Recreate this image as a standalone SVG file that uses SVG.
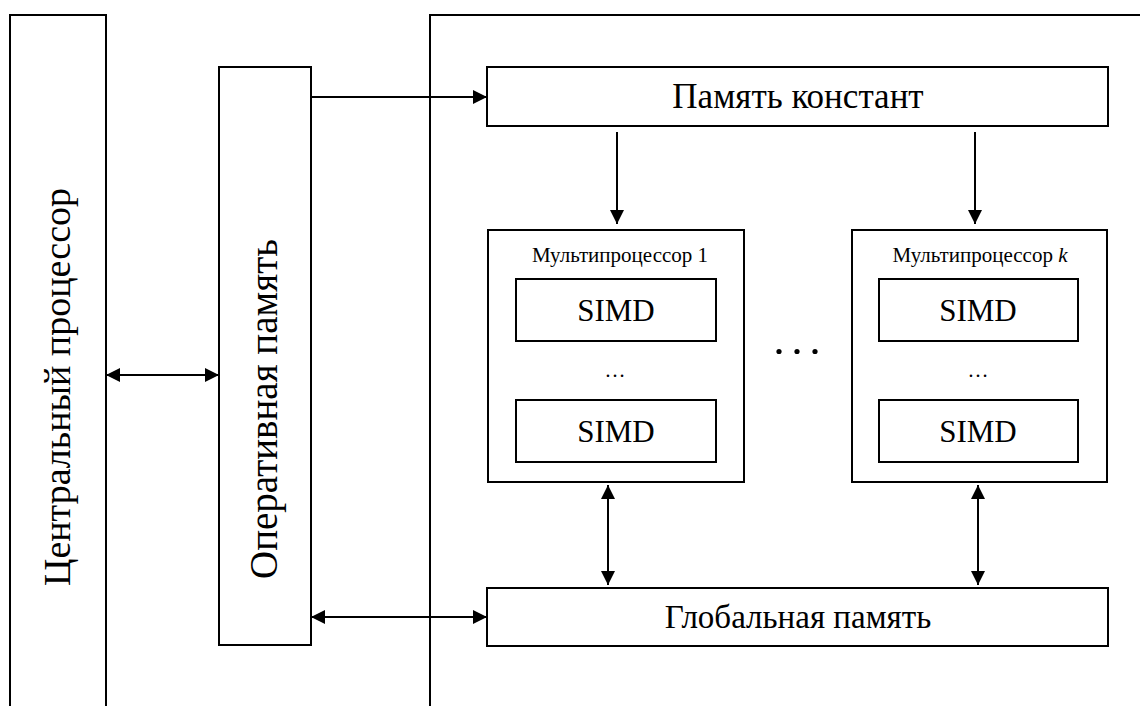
<svg xmlns="http://www.w3.org/2000/svg" width="1140" height="706" viewBox="0 0 1140 706">
  <defs>
    <marker id="head" viewBox="0 0 14 14" refX="14" refY="7" markerWidth="14" markerHeight="14" markerUnits="userSpaceOnUse" orient="auto-start-reverse">
      <path d="M0,0 L14,7 L0,14 Z" fill="#000"/>
    </marker>
    <style>
      .box { fill: #fff; stroke: #000; stroke-width: 2; }
      .line { fill: none; stroke: #000; stroke-width: 2; }
      .wire { fill: none; stroke: #000; stroke-width: 2; }
      .one { marker-end: url(#head); }
      .two { marker-start: url(#head); marker-end: url(#head); }
      .t { font-family: "Liberation Serif", "Times New Roman", serif; fill: #000; text-anchor: middle; }
      .big { font-size: 33px; }
      .side { font-size: 38px; }
      .simd { font-size: 31px; }
      .small { font-size: 21px; }
    </style>
  </defs>
  <rect width="1140" height="706" fill="#fff"/>

  <!-- host side -->
  <g id="cpu">
    <path class="line" d="M10,707 V15 H106 V707"/>
    <text class="t side" transform="translate(58,387) rotate(-90)" dy="12">Центральный процессор</text>
  </g>
  <g id="ram">
    <rect class="box" x="219" y="67" width="92" height="578"/>
    <text class="t side" transform="translate(265,409) rotate(-90)" dy="12" style="font-size:39px">Оперативная память</text>
  </g>

  <!-- device frame -->
  <g id="device">
    <path class="line" d="M430,707 V15 H1141"/>
  </g>

  <g id="const-mem">
    <rect class="box" x="487" y="67" width="621" height="59"/>
    <text class="t big" x="798" y="108" style="font-size:35px">Память констант</text>
  </g>

  <g id="mp1">
    <rect class="box" x="488" y="230" width="256" height="252"/>
    <text class="t small" x="620" y="262">Мультипроцессор 1</text>
    <rect class="box" x="516" y="279" width="200" height="62"/>
    <text class="t simd" x="616" y="321">SIMD</text>
    <text class="t small" x="615" y="377">…</text>
    <rect class="box" x="516" y="400" width="200" height="62"/>
    <text class="t simd" x="616" y="442">SIMD</text>
  </g>

  <g id="ellipsis">
    <circle cx="779" cy="351.5" r="2.6"/>
    <circle cx="797" cy="351.5" r="2.6"/>
    <circle cx="815" cy="351.5" r="2.6"/>
  </g>

  <g id="mpk">
    <rect class="box" x="852" y="230" width="255" height="252"/>
    <text class="t small" x="980" y="262">Мультипроцессор <tspan font-style="italic">k</tspan></text>
    <rect class="box" x="879" y="279" width="199" height="62"/>
    <text class="t simd" x="978" y="321">SIMD</text>
    <text class="t small" x="978" y="377">…</text>
    <rect class="box" x="879" y="400" width="199" height="62"/>
    <text class="t simd" x="978" y="442">SIMD</text>
  </g>

  <g id="global-mem">
    <rect class="box" x="487" y="588" width="621" height="58"/>
    <text class="t big" x="798" y="628">Глобальная память</text>
  </g>

  <!-- connectors -->
  <g id="connectors">
    <line class="wire two" x1="106" y1="375" x2="219" y2="375"/>
    <line class="wire one" x1="311" y1="97" x2="487" y2="97"/>
    <line class="wire two" x1="311" y1="617" x2="487" y2="617"/>
    <line class="wire one" x1="617" y1="132" x2="617" y2="224"/>
    <line class="wire one" x1="975" y1="132" x2="975" y2="224"/>
    <line class="wire two" x1="608" y1="485" x2="608" y2="585"/>
    <line class="wire two" x1="978" y1="485" x2="978" y2="585"/>
  </g>
</svg>
